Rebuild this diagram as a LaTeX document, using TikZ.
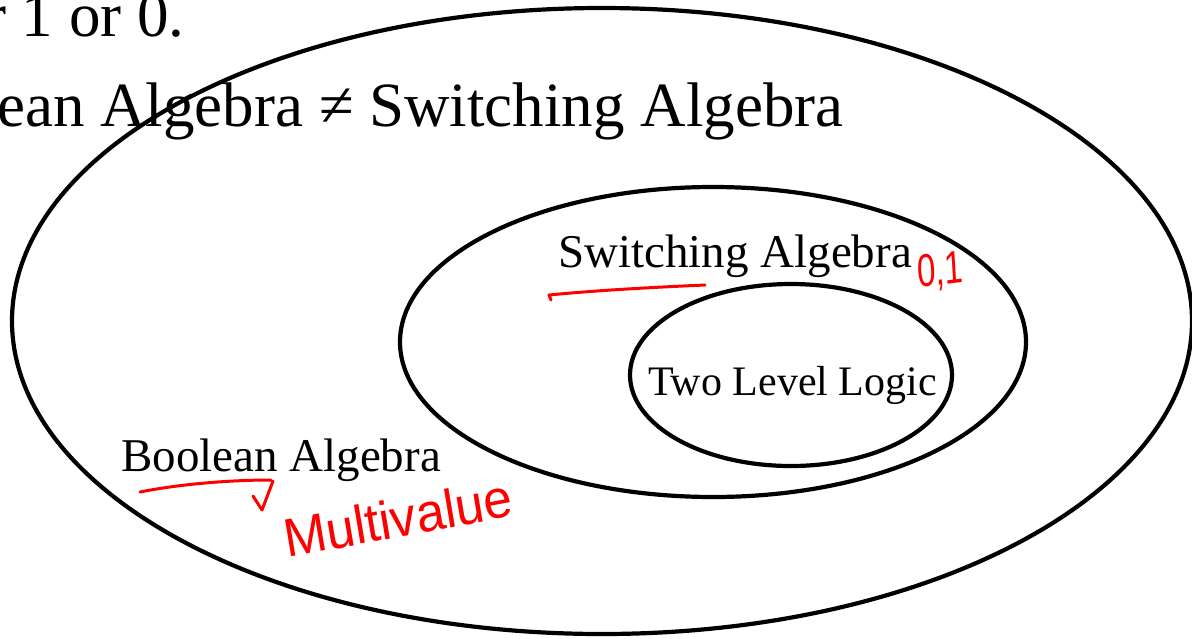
\documentclass[tikz,border=0pt]{standalone}
\usepackage{fontspec}
\setmainfont{Liberation Serif}
\newfontfamily\penfont{Liberation Sans}
\begin{document}
\begin{tikzpicture}[x=1pt,y=-1pt,
  setline/.style={line width=4.2pt, draw=black},
  bigtext/.style={inner sep=0pt, anchor=base west, font=\fontsize{63}{75}\selectfont},
  labtext/.style={inner sep=0pt, anchor=base west, font=\fontsize{47}{56}\selectfont},
  innertext/.style={inner sep=0pt, anchor=base west, font=\fontsize{42}{50}\selectfont},
  redpen/.style={draw=red, line width=3pt, line cap=round, line join=round},
  redtext/.style={inner sep=0pt, anchor=base west, text=red, font=\penfont}]
\useasboundingbox (0,0) rectangle (1192,638);
\clip (0,0) rectangle (1192,638);
% set ellipses
\draw[setline] (602,321) ellipse [x radius=590pt, y radius=313pt];
\draw[setline] (713,342) ellipse [x radius=313pt, y radius=155pt];
\draw[setline] (791,375) ellipse [x radius=161pt, y radius=91pt];
% heading text
\node[bigtext] (line1) at (-15,36) {r 1 or 0.};
\node[bigtext] (line2) at (-3,126) {ean Algebra ≠ Switching Algebra};
% labels
\node[labtext] (sw) at (558,267) {Switching Algebra};
\node[labtext] (bool) at (121,471) {Boolean Algebra};
\node[innertext] (two) at (648,395) {Two Level Logic};
% red annotations
\draw[redpen] (551,300) -- (549,295) .. controls (600,290) and (660,287) .. (705,285);
\node[redtext, font=\penfont\fontsize{46}{52}\selectfont, xscale=0.72, rotate=5] (zo) at (918,288) {0,1};
\draw[redpen] (140,492) .. controls (180,484) and (230,480) .. (271,480);
\coordinate (tip) at (262,510);
\draw[redpen] (273,481) -- (tip);
\draw[redpen] (253,496) -- (tip);
\node[redtext, font=\penfont\fontsize{54}{60}\selectfont, xscale=0.95, rotate=10] (mv) at (287,558) {Multivalue};
\end{tikzpicture}
\end{document}
